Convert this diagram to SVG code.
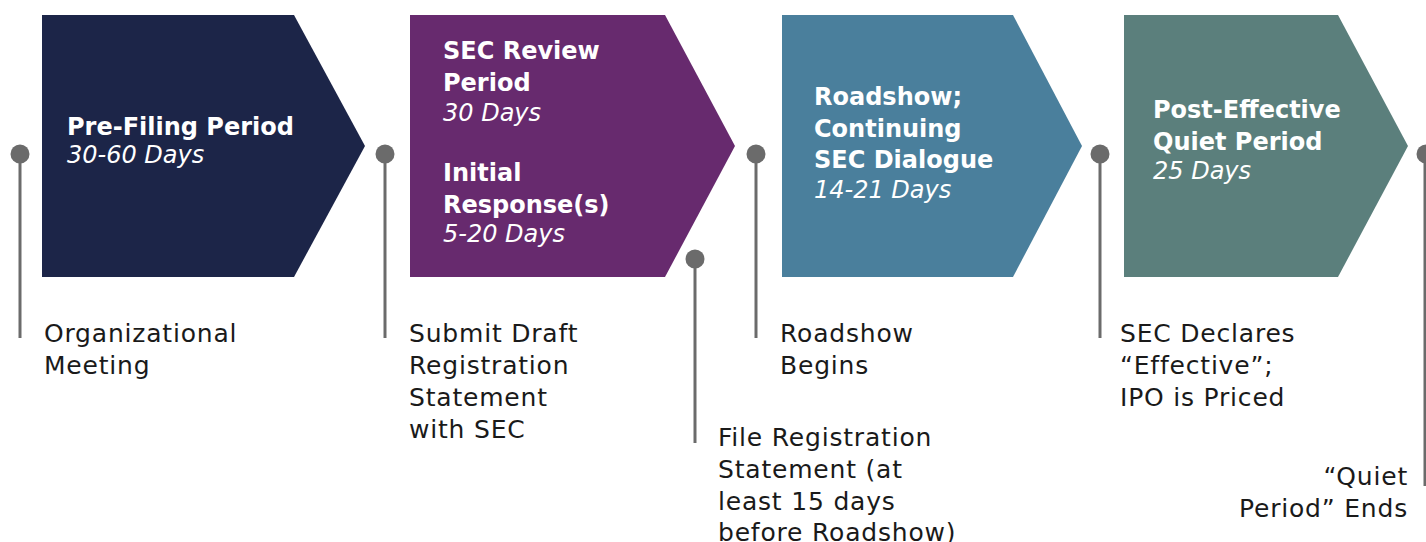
<svg xmlns="http://www.w3.org/2000/svg" width="1426" height="542" viewBox="0 0 1426 542">
  <style>
    .title { font-family: "DejaVu Sans", "Liberation Sans", sans-serif; font-weight: bold; font-size: 24px; fill: #ffffff; }
    .dur { font-family: "DejaVu Sans", "Liberation Sans", sans-serif; font-style: italic; font-size: 24px; fill: #ffffff; }
    .label { font-family: "DejaVu Sans", "Liberation Sans", sans-serif; font-size: 25px; letter-spacing: 0.8px; fill: #1a1a1a; }
    .stem { stroke: #6b6b6b; stroke-width: 3; fill: none; }
    .dot { fill: #6b6b6b; }
  </style>
  <rect width="1426" height="542" fill="#ffffff"/>

  <!-- phase chevrons -->
  <g id="phase-prefiling">
    <polygon points="42,15 294,15 365,146 294,277 42,277" fill="#1c2548"/>
    <text class="title" x="67" y="135">Pre-Filing Period</text>
    <text class="dur" x="67" y="163">30-60 Days</text>
  </g>
  <g id="phase-sec-review">
    <polygon points="410,15 665,15 735,146 665,277 410,277" fill="#672a6e"/>
    <text class="title" x="443" y="59">SEC Review</text>
    <text class="title" x="443" y="91">Period</text>
    <text class="dur" x="443" y="121">30 Days</text>
    <text class="title" x="443" y="181">Initial</text>
    <text class="title" x="443" y="213">Response(s)</text>
    <text class="dur" x="443" y="242">5-20 Days</text>
  </g>
  <g id="phase-roadshow">
    <polygon points="782,15 1013,15 1082,146 1013,277 782,277" fill="#4a7f9c"/>
    <text class="title" x="814" y="105">Roadshow;</text>
    <text class="title" x="814" y="137">Continuing</text>
    <text class="title" x="814" y="168">SEC Dialogue</text>
    <text class="dur" x="814" y="198">14-21 Days</text>
  </g>
  <g id="phase-quiet">
    <polygon points="1124,15 1338,15 1408,146 1338,277 1124,277" fill="#5b7f7c"/>
    <text class="title" x="1153" y="118">Post-Effective</text>
    <text class="title" x="1153" y="150">Quiet Period</text>
    <text class="dur" x="1153" y="179">25 Days</text>
  </g>

  <!-- milestone pins -->
  <g id="connectors">
    <line class="stem" x1="20" y1="154" x2="20" y2="338"/>
    <line class="stem" x1="385" y1="154" x2="385" y2="338"/>
    <line class="stem" x1="695" y1="259" x2="695" y2="443"/>
    <line class="stem" x1="756" y1="154" x2="756" y2="338"/>
    <line class="stem" x1="1100" y1="154" x2="1100" y2="338"/>
    <line class="stem" x1="1425" y1="154" x2="1425" y2="486"/>
  </g>
  <g id="pin-heads">
    <circle class="dot" cx="20" cy="154" r="9.5"/>
    <circle class="dot" cx="385" cy="154" r="9.5"/>
    <circle class="dot" cx="695" cy="259" r="9.5"/>
    <circle class="dot" cx="756" cy="154" r="9.5"/>
    <circle class="dot" cx="1100" cy="154" r="9.5"/>
    <circle class="dot" cx="1426" cy="154" r="9.5"/>
  </g>

  <!-- milestone labels -->
  <g id="m-organizational">
    <text class="label" x="44" y="342">Organizational</text>
    <text class="label" x="44" y="374">Meeting</text>
  </g>
  <g id="m-submit-draft">
    <text class="label" x="409" y="342">Submit Draft</text>
    <text class="label" x="409" y="374">Registration</text>
    <text class="label" x="409" y="406">Statement</text>
    <text class="label" x="409" y="438">with SEC</text>
  </g>
  <g id="m-file-registration">
    <text class="label" x="718" y="446">File Registration</text>
    <text class="label" x="718" y="478">Statement (at</text>
    <text class="label" x="718" y="510">least 15 days</text>
    <text class="label" x="718" y="541">before Roadshow)</text>
  </g>
  <g id="m-roadshow-begins">
    <text class="label" x="780" y="342">Roadshow</text>
    <text class="label" x="780" y="374">Begins</text>
  </g>
  <g id="m-effective">
    <text class="label" x="1120" y="342">SEC Declares</text>
    <text class="label" x="1120" y="374">“Effective”;</text>
    <text class="label" x="1120" y="406">IPO is Priced</text>
  </g>
  <g id="m-quiet-ends">
    <text class="label" x="1408" y="485" text-anchor="end">“Quiet</text>
    <text class="label" x="1408" y="517" text-anchor="end">Period” Ends</text>
  </g>
</svg>
